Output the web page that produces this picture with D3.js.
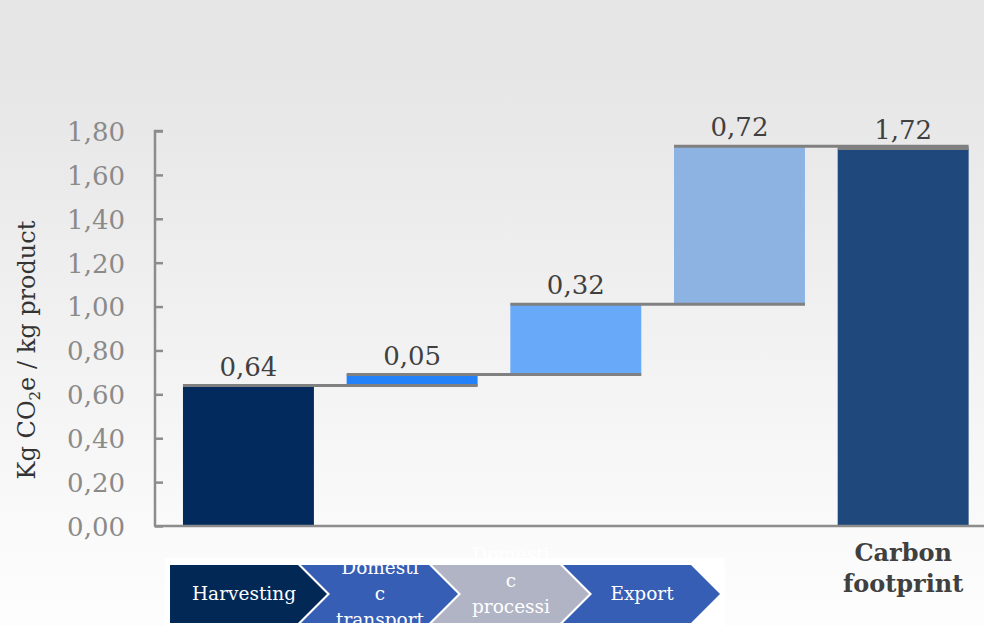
<!DOCTYPE html>
<html>
<head>
<meta charset="utf-8">
<script src="https://cdn.jsdelivr.net/npm/d3@7"></script>
<style>
  html, body { margin: 0; padding: 0; background: #ffffff; }
  svg { display: block; }
</style>
</head>
<body>
<svg id="chart" width="984" height="626"></svg>
<script>
// Waterfall of the carbon footprint per kg of product
const stages = ["Harvesting", "Domestic transport", "Domestic processing", "Export"];
const stageValues = [0.64, 0.05, 0.32, 0.72];
const totalLabel = "Carbon footprint";
const totalValue = 1.72;
const valueLabels = ["0,64", "0,05", "0,32", "0,72", "1,72"];
const yTicks = [0, 0.2, 0.4, 0.6, 0.8, 1.0, 1.2, 1.4, 1.6, 1.8];
const barColors = ["#022a5c", "#2381f9", "#68aaf9", "#8db3e3", "#1f497d"];

// process chevrons under the chart (text as wrapped inside each shape)
const chevronLines = [
  ["Harvesting"],
  ["Domesti", "c", "transport"],
  ["Domesti", "c", "processi", "ng"],
  ["Export"]
];
const chevronColors = ["#022856", "#365eb5", "#b1b4c5", "#365eb5"];

const W = 984, H = 626;
const svg = d3.select("#chart");

// background: light grey fading to white
const defs = svg.append("defs");
const grad = defs.append("linearGradient")
  .attr("id", "bg").attr("x1", 0).attr("y1", 0).attr("x2", 0).attr("y2", 1);
grad.append("stop").attr("offset", "0").attr("stop-color", "#e6e6e6");
grad.append("stop").attr("offset", "0.12").attr("stop-color", "#e6e6e6");
grad.append("stop").attr("offset", "0.85").attr("stop-color", "#fafafa");
grad.append("stop").attr("offset", "1").attr("stop-color", "#fdfdfd");
svg.append("rect").attr("width", W).attr("height", H).attr("fill", "url(#bg)");

// scales
const categories = stages.concat([totalLabel]);
const x = d3.scaleBand().domain(categories).range([166.6, 985]).paddingInner(0.2).paddingOuter(0.1);
const y = d3.scaleLinear().domain([0, 1.8]).range([526, 131]);

// waterfall steps
let running = 0;
const bars = stages.map((s, i) => {
  const start = running;
  running += stageValues[i];
  return { name: s, y0: start, y1: running, label: valueLabels[i], color: barColors[i] };
});
bars.push({ name: totalLabel, y0: 0, y1: totalValue, label: valueLabels[4], color: barColors[4] });

const g = svg.append("g");

g.selectAll("rect.bar").data(bars).join("rect")
  .attr("class", "bar")
  .attr("x", d => x(d.name))
  .attr("width", x.bandwidth())
  .attr("y", d => y(d.y1))
  .attr("height", d => y(d.y0) - y(d.y1))
  .attr("fill", d => d.color);

// connector lines: each level runs from the top of a bar across the next one
const connectors = bars.slice(0, bars.length - 1).map((d, i) => ({
  x1: x(d.name), x2: x(bars[i + 1].name) + x.bandwidth(), level: d.y1
}));
g.selectAll("line.conn").data(connectors).join("line")
  .attr("class", "conn")
  .attr("x1", d => d.x1).attr("x2", d => d.x2)
  .attr("y1", d => y(d.level)).attr("y2", d => y(d.level))
  .attr("stroke", "#808080").attr("stroke-width", 3);
// total bar top edge
g.append("line")
  .attr("x1", x(totalLabel)).attr("x2", x(totalLabel) + x.bandwidth())
  .attr("y1", y(totalValue)).attr("y2", y(totalValue))
  .attr("stroke", "#808080").attr("stroke-width", 3);

// value labels
g.selectAll("text.val").data(bars).join("text")
  .attr("class", "val")
  .attr("x", d => x(d.name) + x.bandwidth() / 2)
  .attr("y", d => y(d.y1) - 10)
  .attr("text-anchor", "middle")
  .attr("font-family", "DejaVu Serif, serif")
  .attr("font-size", 26)
  .attr("fill", "#404040")
  .text(d => d.label);

// y axis
const yAxis = d3.axisRight(y).tickValues(yTicks).tickSize(8)
  .tickFormat(d => d3.format(".2f")(d).replace(".", ","));
const ya = svg.append("g").attr("transform", "translate(155,0)").call(yAxis);
ya.select(".domain").attr("stroke", "#8c8c8c").attr("stroke-width", 2.5)
  .attr("d", `M8,${y(1.8)}H0V${y(0)}`);
ya.selectAll(".tick line").attr("stroke", "#8c8c8c").attr("stroke-width", 2.5);
ya.selectAll(".tick text")
  .attr("x", -30).attr("text-anchor", "end")
  .attr("font-family", "DejaVu Serif, serif")
  .attr("font-size", 26)
  .attr("fill", "#8a8a8a")
  .attr("dy", "0.36em");

// x baseline
svg.append("line")
  .attr("x1", 154).attr("x2", W)
  .attr("y1", y(0)).attr("y2", y(0))
  .attr("stroke", "#8c8c8c").attr("stroke-width", 2.5);

// y axis title
const title = svg.append("text")
  .attr("transform", `translate(35,350) rotate(-90)`)
  .attr("text-anchor", "middle")
  .attr("font-family", "DejaVu Serif, serif")
  .attr("font-size", 24)
  .attr("fill", "#333333");
title.append("tspan").text("Kg CO");
title.append("tspan").attr("font-size", 15).attr("dy", 5).text("2");
title.append("tspan").attr("dy", -5).text("e / kg product");

// total category label
const tl = svg.append("text")
  .attr("x", x(totalLabel) + x.bandwidth() / 2)
  .attr("text-anchor", "middle")
  .attr("font-family", "DejaVu Serif, serif")
  .attr("font-weight", "bold")
  .attr("font-size", 24)
  .attr("fill", "#404040");
tl.append("tspan").attr("x", x(totalLabel) + x.bandwidth() / 2).attr("y", 561).text("Carbon");
tl.append("tspan").attr("x", x(totalLabel) + x.bandwidth() / 2).attr("y", 592).text("footprint");

// process chevrons
const cx = d3.scaleLinear().domain([0, 1]).range([170, 301]);
const cTop = 565, cHalf = 29, cWidth = 157, cDepth = 29;
svg.append("rect")
  .attr("x", 165).attr("y", 558).attr("width", 560).attr("height", H - 558)
  .attr("fill", "#ffffff");
const chev = svg.append("g");
stages.forEach((s, i) => {
  const left = cx(i);
  const mid = cTop + cHalf, bot = cTop + 2 * cHalf;
  const p = d3.path();
  p.moveTo(left, cTop);
  p.lineTo(left + cWidth - cDepth, cTop);
  p.lineTo(left + cWidth, mid);
  p.lineTo(left + cWidth - cDepth, bot);
  p.lineTo(left, bot);
  if (i > 0) p.lineTo(left + cDepth, mid);
  p.closePath();
  chev.append("path").attr("d", p.toString()).attr("fill", chevronColors[i]);

  const lines = chevronLines[i];
  const lh = 26;
  const t = chev.append("text")
    .attr("text-anchor", "middle")
    .attr("font-family", "DejaVu Serif, serif")
    .attr("font-size", 18.5)
    .attr("fill", "#ffffff");
  const tx = left + (i === 0 ? 74 : 79);
  lines.forEach((ln, k) => {
    t.append("tspan")
      .attr("x", tx)
      .attr("y", mid + (k - (lines.length - 1) / 2) * lh + 6)
      .text(ln);
  });
});
</script>
</body>
</html>
